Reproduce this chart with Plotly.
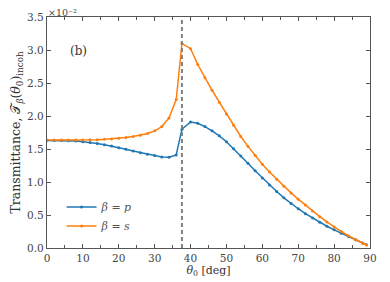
import plotly.graph_objects as go

theta = [0, 2, 4, 6, 8, 10, 12, 14, 16, 18, 20, 22, 24, 26, 28, 30, 32, 34, 36, 37.6,
         40, 42, 44, 46, 48, 50, 52, 54, 56, 58, 60, 62, 64, 66, 68, 70, 72, 74, 76,
         78, 80, 82, 84, 86, 88, 89]
T_p = [1.63, 1.63, 1.628, 1.625, 1.62, 1.61, 1.60, 1.585, 1.565, 1.545, 1.52, 1.495,
       1.47, 1.445, 1.42, 1.40, 1.38, 1.375, 1.41, 1.80,
       1.91, 1.89, 1.84, 1.775, 1.70, 1.61, 1.505, 1.395, 1.285, 1.17, 1.06, 0.955, 0.855,
       0.76, 0.675, 0.595, 0.52, 0.455, 0.39, 0.33, 0.275, 0.225, 0.175, 0.125, 0.075, 0.05]
T_s = [1.635, 1.635, 1.635, 1.635, 1.636, 1.637, 1.639, 1.642, 1.647, 1.653, 1.662,
       1.675, 1.69, 1.71, 1.735, 1.775, 1.84, 1.97, 2.25, 3.10,
       3.02, 2.78, 2.58, 2.39, 2.21, 2.03, 1.86, 1.69, 1.54, 1.40, 1.27, 1.15, 1.04,
       0.935, 0.835, 0.74, 0.65, 0.56, 0.475, 0.395, 0.32, 0.25, 0.185, 0.125, 0.07, 0.045]
theta_c = 37.6
series_names = ["<i>β</i> = <i>p</i>", "<i>β</i> = <i>s</i>"]
colors = ["#1f77b4", "#ff7f0e"]

FONT = "DejaVu Serif"
fig = go.Figure()
for name, ys, c in zip(series_names, [T_p, T_s], colors):
    fig.add_trace(go.Scatter(x=theta, y=ys, mode="lines+markers", name=name,
                             line=dict(color=c, width=1.5),
                             marker=dict(size=3, color=c)))

fig.add_shape(type="line", x0=theta_c, x1=theta_c, y0=0, y1=1, yref="paper",
              line=dict(color="#808080", width=2, dash="4px,3px"))

fig.add_annotation(x=0.065, y=0.89, xref="paper", yref="paper", text="(b)",
                   showarrow=False, font=dict(family=FONT, size=12, color="#333"))
fig.add_annotation(x=-0.003, y=1.0, xref="paper", yref="paper", xanchor="left",
                   yanchor="bottom", yshift=-3, text="×10⁻²", showarrow=False,
                   font=dict(family=FONT, size=9.5, color="#444"))

axis_common = dict(showline=True, linecolor="#555", linewidth=1.2, mirror="ticks",
                   ticks="inside", ticklen=4, tickcolor="#555", showgrid=False,
                   zeroline=False, automargin=False,
                   tickfont=dict(family=FONT, size=10.5, color="#444"))
fig.update_xaxes(range=[0, 90], dtick=10,
                 minor=dict(ticks="inside", dtick=5, ticklen=3, tickcolor="#555"),
                 title=dict(text="<i>θ</i><sub>0</sub> [deg]", standoff=2,
                            font=dict(family=FONT, size=11, color="#333")),
                 **axis_common)
fig.update_yaxes(range=[0, 3.5], dtick=0.5, tickformat=".1f",
                 title=dict(text="Transmittance, 𝒯<sub><i>β</i></sub>(<i>θ</i><sub>0</sub>)<sub>incoh</sub>",
                            standoff=4, font=dict(family=FONT, size=12.5, color="#333")),
                 **axis_common)

# page body has an 8px default margin, so the figure is shifted by (8, 8)
fig.update_layout(width=390, height=282, margin=dict(l=39, r=28, t=9, b=42),
                  plot_bgcolor="white", paper_bgcolor="white",
                  showlegend=True,
                  legend=dict(x=0.045, y=0.24, xanchor="left", yanchor="top",
                              bgcolor="rgba(0,0,0,0)",
                              font=dict(family=FONT, size=11, color="#555"),
                              tracegroupgap=0, itemwidth=30))
fig.write_html("out.html")
